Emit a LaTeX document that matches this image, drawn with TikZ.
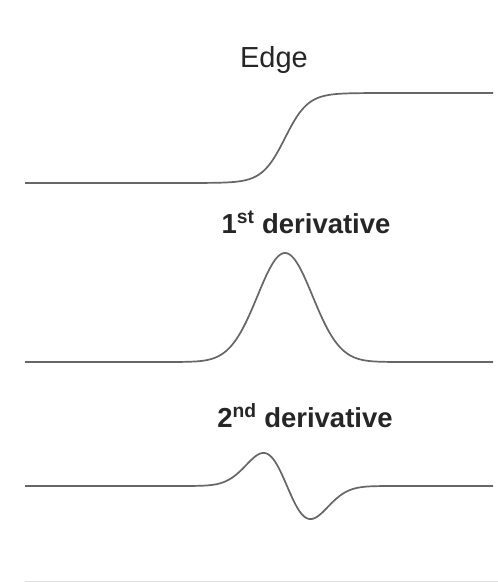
\documentclass[tikz,border=0pt]{standalone}
\usepackage{fontspec}
\setmainfont{Liberation Sans}
\begin{document}
\begin{tikzpicture}[x=1pt,y=-1pt,
  curve/.style={draw=black!60,line width=1.7pt,line join=round},
  lbl/.style={font=\fontsize{29}{34}\selectfont,anchor=base,inner sep=0pt,text=black!85},
  lblb/.style={font=\bfseries\fontsize{27.5}{33}\selectfont,anchor=base,inner sep=0pt,text=black!85}]
\useasboundingbox (0,0) rectangle (498,582);
\fill[white] (0,0) rectangle (498,582);
\draw[black!12,line width=1pt] (25,581) -- (498,581);
% labels
\node[lbl] (edge) at (274,67) {Edge};
\node[lblb] (d1) at (306,233) {1\textsuperscript{st} derivative};
\node[lblb] (d2) at (305,427) {2\textsuperscript{nd} derivative};
% edge curve
\draw[curve] (25,183) -- plot[domain=195:375,samples=150] (\x,{183-90/(1+exp(-(\x-285)/11.5))}) -- (493,93);
% first derivative
\draw[curve] (25,362) -- plot[domain=175:395,samples=150] (\x,{362-109*exp(-0.5*((\x-285)/27.5)^2)}) -- (493,362);
% second derivative
\draw[curve] (25,486) -- plot[domain=187:387,samples=150] (\x,{486+2.32*(\x-287)*exp(-0.5*((\x-287)/23.5)^2)}) -- (493,486);
\end{tikzpicture}
\end{document}
